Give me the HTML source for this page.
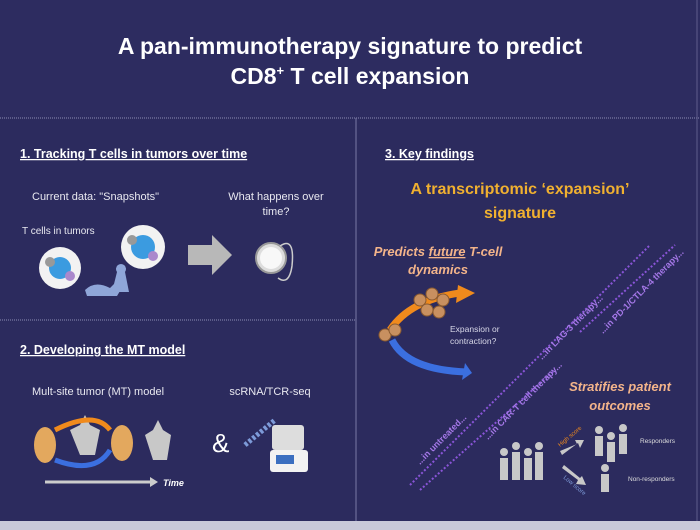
<!DOCTYPE html>
<html><head><meta charset="utf-8"><style>
html,body{margin:0;padding:0;background:#2c2b5e;}
svg{display:block}
text{font-family:"Liberation Sans",sans-serif}
</style></head><body>
<svg width="700" height="530" viewBox="0 0 700 530" xmlns="http://www.w3.org/2000/svg">
<rect width="700" height="530" fill="#2c2b5e"/>
<rect x="0" y="0" width="700" height="118" fill="#2d2c60"/>
<rect x="0" y="521" width="700" height="9" fill="#c9c9d9"/>
<line x1="0" y1="118" x2="700" y2="118" stroke="#8d8cb4" stroke-width="1" stroke-dasharray="1 1"/>
<line x1="356" y1="118" x2="356" y2="521" stroke="#7a79a6" stroke-width="1"/>
<line x1="0" y1="320" x2="356" y2="320" stroke="#8d8cb4" stroke-width="1" stroke-dasharray="1 1"/>
<line x1="697" y1="0" x2="697" y2="521" stroke="#5e5d8c" stroke-width="1"/>

<text x="350" y="54" fill="#fff" font-size="23" font-weight="bold" text-anchor="middle">A pan-immunotherapy signature to predict</text>
<text x="350" y="84" fill="#fff" font-size="23" font-weight="bold" text-anchor="middle">CD8<tspan font-size="13" dy="-9">+</tspan><tspan dy="9"> T cell expansion</tspan></text>

<text x="20" y="158" fill="#fff" font-size="12.5" font-weight="bold" text-decoration="underline">1. Tracking T cells in tumors over time</text>
<text x="32" y="200" fill="#e8e8f0" font-size="11">Current data: "Snapshots"</text>
<text x="276" y="200" fill="#e8e8f0" font-size="11" text-anchor="middle">What happens over</text>
<text x="276" y="215" fill="#e8e8f0" font-size="11" text-anchor="middle">time?</text>
<text x="22" y="234" fill="#e8e8f0" font-size="10">T cells in tumors</text>
<g>
<circle cx="60" cy="268" r="21" fill="#f2f2f2"/>
<circle cx="60" cy="268" r="11" fill="#3b9be0"/><circle cx="50" cy="262" r="5" fill="#999"/><circle cx="70" cy="276" r="5" fill="#aa88cc"/>
<circle cx="143" cy="247" r="22" fill="#f2f2f2"/>
<circle cx="143" cy="247" r="12" fill="#3b9be0"/><circle cx="132" cy="240" r="5" fill="#999"/><circle cx="153" cy="256" r="5" fill="#aa88cc"/>
<path d="M85 290 q10 -10 25 -2 l5 -5 l5 8 l-3 5 h-30z" fill="#8fa6d8"/>
<path d="M112 292 l5 -20 a5 5 0 1 1 8 0 l4 20z" fill="#8fa6d8"/>
<polygon points="188,245 212,245 212,235 232,255 212,275 212,265 188,265" fill="#b8b8b8"/>
<circle cx="271" cy="258" r="15" fill="#ddd" stroke="#999" stroke-width="2"/>
<circle cx="271" cy="258" r="11" fill="#f8f8f8"/>
<path d="M280 246 q15 -10 12 20 q-3 20 -14 12" fill="none" stroke="#ccc" stroke-width="1.5"/>
</g>

<text x="20" y="354" fill="#fff" font-size="12.5" font-weight="bold" text-decoration="underline">2. Developing the MT model</text>
<text x="32" y="395" fill="#e8e8f0" font-size="11">Mult-site tumor (MT) model</text>
<text x="270" y="395" fill="#e8e8f0" font-size="11" text-anchor="middle">scRNA/TCR-seq</text>
<ellipse cx="45" cy="445" rx="11" ry="18" fill="#e3a85e"/>
<ellipse cx="122" cy="443" rx="11" ry="18" fill="#e3a85e"/>
<path d="M70 430 l10 -5 l5 -10 l5 10 l10 5 l-5 25 h-15z" fill="#c8c8c8"/>
<path d="M145 435 l8 -5 l5 -10 l5 10 l8 5 l-4 25 h-14z" fill="#c8c8c8"/>
<path d="M55 430 q40 -20 55 0" fill="none" stroke="#f08a1c" stroke-width="5"/>
<path d="M55 460 q40 15 55 -10" fill="none" stroke="#3b6fe0" stroke-width="5"/>
<line x1="45" y1="482" x2="150" y2="482" stroke="#ccc" stroke-width="3"/>
<polygon points="150,477 158,482 150,487" fill="#ccc"/>
<text x="163" y="486" fill="#fff" font-size="9" font-style="italic" font-weight="bold">Time</text>
<text x="212" y="452" fill="#fff" font-size="26">&amp;</text>
<path d="M245 445 l30 -25" stroke="#7d9ad8" stroke-width="5" stroke-dasharray="3 2"/>
<rect x="272" y="425" width="32" height="25" rx="3" fill="#ddd"/>
<rect x="270" y="450" width="38" height="22" rx="3" fill="#f2f2f2"/>
<rect x="276" y="455" width="18" height="9" fill="#3b6fc0"/>

<text x="385" y="158" fill="#fff" font-size="12.5" font-weight="bold" text-decoration="underline">3. Key findings</text>
<text x="520" y="194" fill="#f0b030" font-size="16" font-weight="bold" text-anchor="middle">A transcriptomic ‘expansion’</text>
<text x="520" y="218" fill="#f0b030" font-size="16" font-weight="bold" text-anchor="middle">signature</text>
<text x="438" y="256" fill="#f3b48a" font-size="13" font-weight="bold" font-style="italic" text-anchor="middle">Predicts <tspan text-decoration="underline">future</tspan> T-cell</text>
<text x="438" y="274" fill="#f3b48a" font-size="13" font-weight="bold" font-style="italic" text-anchor="middle">dynamics</text>
<path d="M390 330 q20 -30 70 -37" fill="none" stroke="#f08a1c" stroke-width="7"/>
<polygon points="458,285 475,293 456,303" fill="#f08a1c"/>
<path d="M392 340 q15 30 75 32" fill="none" stroke="#3b6fe0" stroke-width="7"/>
<polygon points="465,363 472,373 462,380" fill="#3b6fe0"/>
<g fill="#c89060" stroke="#8a5a30"><circle cx="420" cy="300" r="6"/><circle cx="432" cy="294" r="6"/><circle cx="443" cy="300" r="6"/><circle cx="427" cy="310" r="6"/><circle cx="439" cy="312" r="6"/><circle cx="385" cy="335" r="6"/><circle cx="395" cy="330" r="6"/></g>
<text x="450" y="332" fill="#d8d8e8" font-size="8.5">Expansion or</text>
<text x="450" y="344" fill="#d8d8e8" font-size="8.5">contraction?</text>
<line x1="410" y1="485" x2="650" y2="245" stroke="#8a55d8" stroke-width="2" stroke-dasharray="2 2"/>
<line x1="420" y1="490" x2="555" y2="370" stroke="#8a55d8" stroke-width="2" stroke-dasharray="2 2"/>
<line x1="580" y1="332" x2="675" y2="245" stroke="#8a55d8" stroke-width="2" stroke-dasharray="2 2"/>
<g fill="#a578e8" font-size="9" font-weight="bold">
<text transform="translate(420,465) rotate(-45)">...in untreated...</text>
<text transform="translate(488,440) rotate(-45)">...in CAR-T cell therapy...</text>
<text transform="translate(542,360) rotate(-45)">...in LAG-3 therapy...</text>
<text transform="translate(603,334) rotate(-45)">...in PD-1/CTLA-4 therapy...</text>
</g>
<text x="620" y="391" fill="#f3b48a" font-size="13" font-weight="bold" font-style="italic" text-anchor="middle">Stratifies patient</text>
<text x="620" y="410" fill="#f3b48a" font-size="13" font-weight="bold" font-style="italic" text-anchor="middle">outcomes</text>
<g fill="#c8c8c8">
<rect x="500" y="458" width="8" height="22"/><rect x="512" y="452" width="8" height="28"/><rect x="524" y="458" width="8" height="22"/><rect x="535" y="452" width="8" height="28"/>
<circle cx="504" cy="452" r="4"/><circle cx="516" cy="446" r="4"/><circle cx="528" cy="452" r="4"/><circle cx="539" cy="446" r="4"/>
<rect x="595" y="436" width="8" height="20"/><rect x="607" y="442" width="8" height="20"/><rect x="619" y="434" width="8" height="20"/>
<circle cx="599" cy="430" r="4"/><circle cx="611" cy="436" r="4"/><circle cx="623" cy="428" r="4"/>
<rect x="601" y="474" width="8" height="18"/><circle cx="605" cy="468" r="4"/>
<polygon points="562,455 578,443 580,448 584,440 575,440 577,444 560,451"/>
<polygon points="562,468 578,480 576,484 586,485 582,476 580,478 564,465"/>
</g>
<text transform="translate(560,447) rotate(-40)" fill="#f08a1c" font-size="6">High score</text>
<text transform="translate(563,478) rotate(40)" fill="#7d9ad8" font-size="6">Low score</text>
<text x="640" y="443" fill="#ddd" font-size="6.5">Responders</text>
<text x="628" y="481" fill="#ddd" font-size="6.5">Non-responders</text>
</svg>
</body></html>
